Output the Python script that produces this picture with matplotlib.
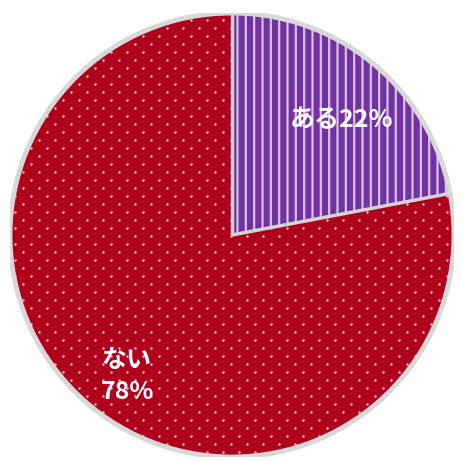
import numpy as np
import matplotlib
matplotlib.use('Agg')
import matplotlib.pyplot as plt
from matplotlib.patches import Circle

plt.rcParams['font.family'] = ['Noto Sans CJK JP', 'DejaVu Sans']
plt.rcParams['hatch.linewidth'] = 1.6

labels = ['ある', 'ない']
values = [22, 78]
colors = ['#7330a3', '#b0001c']

fig = plt.figure(figsize=(4.63, 4.64), dpi=100)
W, H = 463, 464
cx, cy, r = 232, 236, 222
ax = fig.add_axes([(cx - r) / W, (H - cy - r) / H, 2 * r / W, 2 * r / H])

wedges, _ = ax.pie(values, colors=colors, startangle=90, counterclock=False,
                   radius=1.0, center=(0, 0), frame=True,
                   wedgeprops=dict(linewidth=0))
ax.set_xlim(-1, 1)
ax.set_ylim(-1, 1)
ax.axis('off')

# 紫の扇形：縦じま
wedges[0].set_hatch('||')
wedges[0].set_edgecolor('#d2c4e0')
wedges[0].set_linewidth(0)

# 赤の扇形：ずらした点模様
step_x = 16 / r
step_y = 8 / r
pts_x, pts_y = [], []
for i, yy in enumerate(np.arange(-1.05, 1.05, step_y)):
    off = (step_x / 2) if i % 2 else 0
    for xx in np.arange(-1.05 + off, 1.05, step_x):
        pts_x.append(xx)
        pts_y.append(yy)
dots = ax.scatter(pts_x, pts_y, s=3.2, c='#f5bcc6', linewidths=0, zorder=3)
dots.set_clip_path(wedges[1])

# 扇形の境界線と外枠
th_start = np.deg2rad(90)
th_end = np.deg2rad(90 - values[0] / sum(values) * 360)
for th in (th_start, th_end):
    ax.plot([0, np.cos(th)], [0, np.sin(th)], color='#d4d4d4', lw=2.5,
            solid_capstyle='butt', zorder=4)
ax.add_patch(Circle((0, 0), 1.0, fill=False, edgecolor='#d8d8d8', lw=3.5, zorder=5))

ax.text(0.26, 0.52, f'{labels[0]}{values[0]}%', color='white', fontsize=18,
        fontweight='bold', ha='left', va='center', zorder=6)
ax.text(-0.59, -0.63, f'{labels[1]}\n{values[1]}%', color='white', fontsize=18,
        fontweight='bold', ha='left', va='center', linespacing=1.45, zorder=6)

fig.savefig('out.png', dpi=100)
